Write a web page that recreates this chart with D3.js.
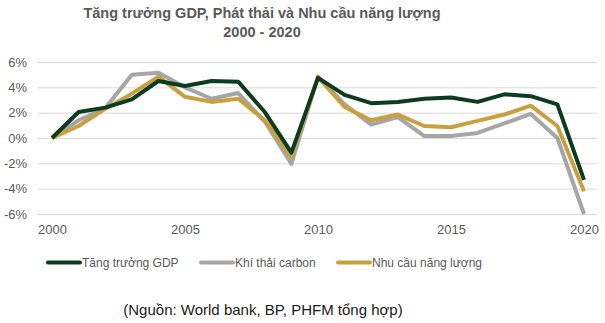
<!DOCTYPE html>
<html><head><meta charset="utf-8">
<script src="https://cdn.jsdelivr.net/npm/d3@7/dist/d3.min.js"></script>
<style>body{margin:0;background:#fff;}svg{display:block;}</style>
</head><body>
<svg id="chart" width="605" height="323"></svg>
<script>
const years = [2000,2001,2002,2003,2004,2005,2006,2007,2008,2009,2010,2011,2012,2013,2014,2015,2016,2017,2018,2019,2020];
const gdp    = [0,2.05,2.4,3.05,4.5,4.1,4.5,4.45,2.05,-1.15,4.75,3.4,2.75,2.85,3.1,3.2,2.85,3.45,3.3,2.65,-3.3];
const carbon = [0,1.4,2.35,5.0,5.15,4.0,3.1,3.55,1.3,-2.05,4.85,2.65,1.05,1.65,0.15,0.15,0.4,1.15,1.9,0.0,-6.0];
const energy = [0,0.95,2.3,3.5,4.85,3.25,2.85,3.1,1.4,-1.5,4.8,2.45,1.4,1.85,0.95,0.85,1.35,1.85,2.55,0.95,-4.2];
const yTicks = [-6,-4,-2,0,2,4,6];
const xTicks = [2000,2005,2010,2015,2020];
const seriesNames = ["Tăng trưởng GDP","Khí thải carbon","Nhu cầu năng lượng"];
const seriesColors = ["#0d3b1f","#a6a6a6","#c9a040"];
const titleLines = ["Tăng trưởng GDP, Phát thải và Nhu cầu năng lượng","2000 - 2020"];
const sourceText = "(Nguồn: World bank, BP, PHFM tổng hợp)";

const svg = d3.select("#chart");
const font = "Liberation Sans, Arial, sans-serif";
const x = d3.scaleLinear().domain([2000,2020]).range([52,584]);
const y = d3.scaleLinear().domain([-6,6]).range([214,62]);

// title
svg.append("g").selectAll("text").data(titleLines).join("text")
  .attr("x",262).attr("y",(d,i)=>18+i*18.5)
  .attr("text-anchor","middle").attr("font-family",font)
  .attr("font-weight","bold").attr("font-size",14.5).attr("fill","#595959")
  .text(d=>d);

// grid
const yAxis = d3.axisLeft(y).tickValues(yTicks).tickSize(-(597-38)).tickFormat(d=>d+"%");
const gy = svg.append("g").attr("transform","translate(38,0)").call(yAxis);
gy.select(".domain").remove();
gy.selectAll(".tick line").attr("stroke","#d9d9d9").attr("stroke-width",1);
gy.selectAll(".tick text").attr("x",-11).attr("font-family",font).attr("font-size",13).attr("fill","#595959");

const xAxis = d3.axisBottom(x).tickValues(xTicks).tickSize(0).tickFormat(d3.format("d"));
const gx = svg.append("g").attr("transform","translate(0,224)").call(xAxis);
gx.select(".domain").remove();
gx.selectAll(".tick text").attr("dy","0.71em").attr("y",1).attr("font-family",font).attr("font-size",13).attr("fill","#595959");

const all = [gdp,carbon,energy];
const line = d3.line().x((d,i)=>x(years[i])).y(d=>y(d));
const order = [1,2,0];
order.forEach(k=>{
  svg.append("path").datum(all[k]).attr("d",line)
    .attr("fill","none").attr("stroke",seriesColors[k]).attr("stroke-width",4)
    .attr("stroke-linejoin","round").attr("stroke-linecap","butt");
});

// legend
const legX = [48,201,338];
const lg = svg.append("g");
seriesNames.forEach((n,i)=>{
  lg.append("line").attr("x1",legX[i]).attr("x2",legX[i]+32).attr("y1",262.5).attr("y2",262.5)
    .attr("stroke",seriesColors[i]).attr("stroke-width",4).attr("stroke-linecap","round");
  lg.append("text").attr("x",legX[i]+34).attr("y",267).attr("font-family",font)
    .attr("font-size",12).attr("fill","#595959").text(n);
});

svg.append("text").attr("x",263).attr("y",315).attr("text-anchor","middle")
  .attr("font-family",font).attr("font-size",15).attr("fill","#1a1a1a").text(sourceText);
</script>
</body></html>
